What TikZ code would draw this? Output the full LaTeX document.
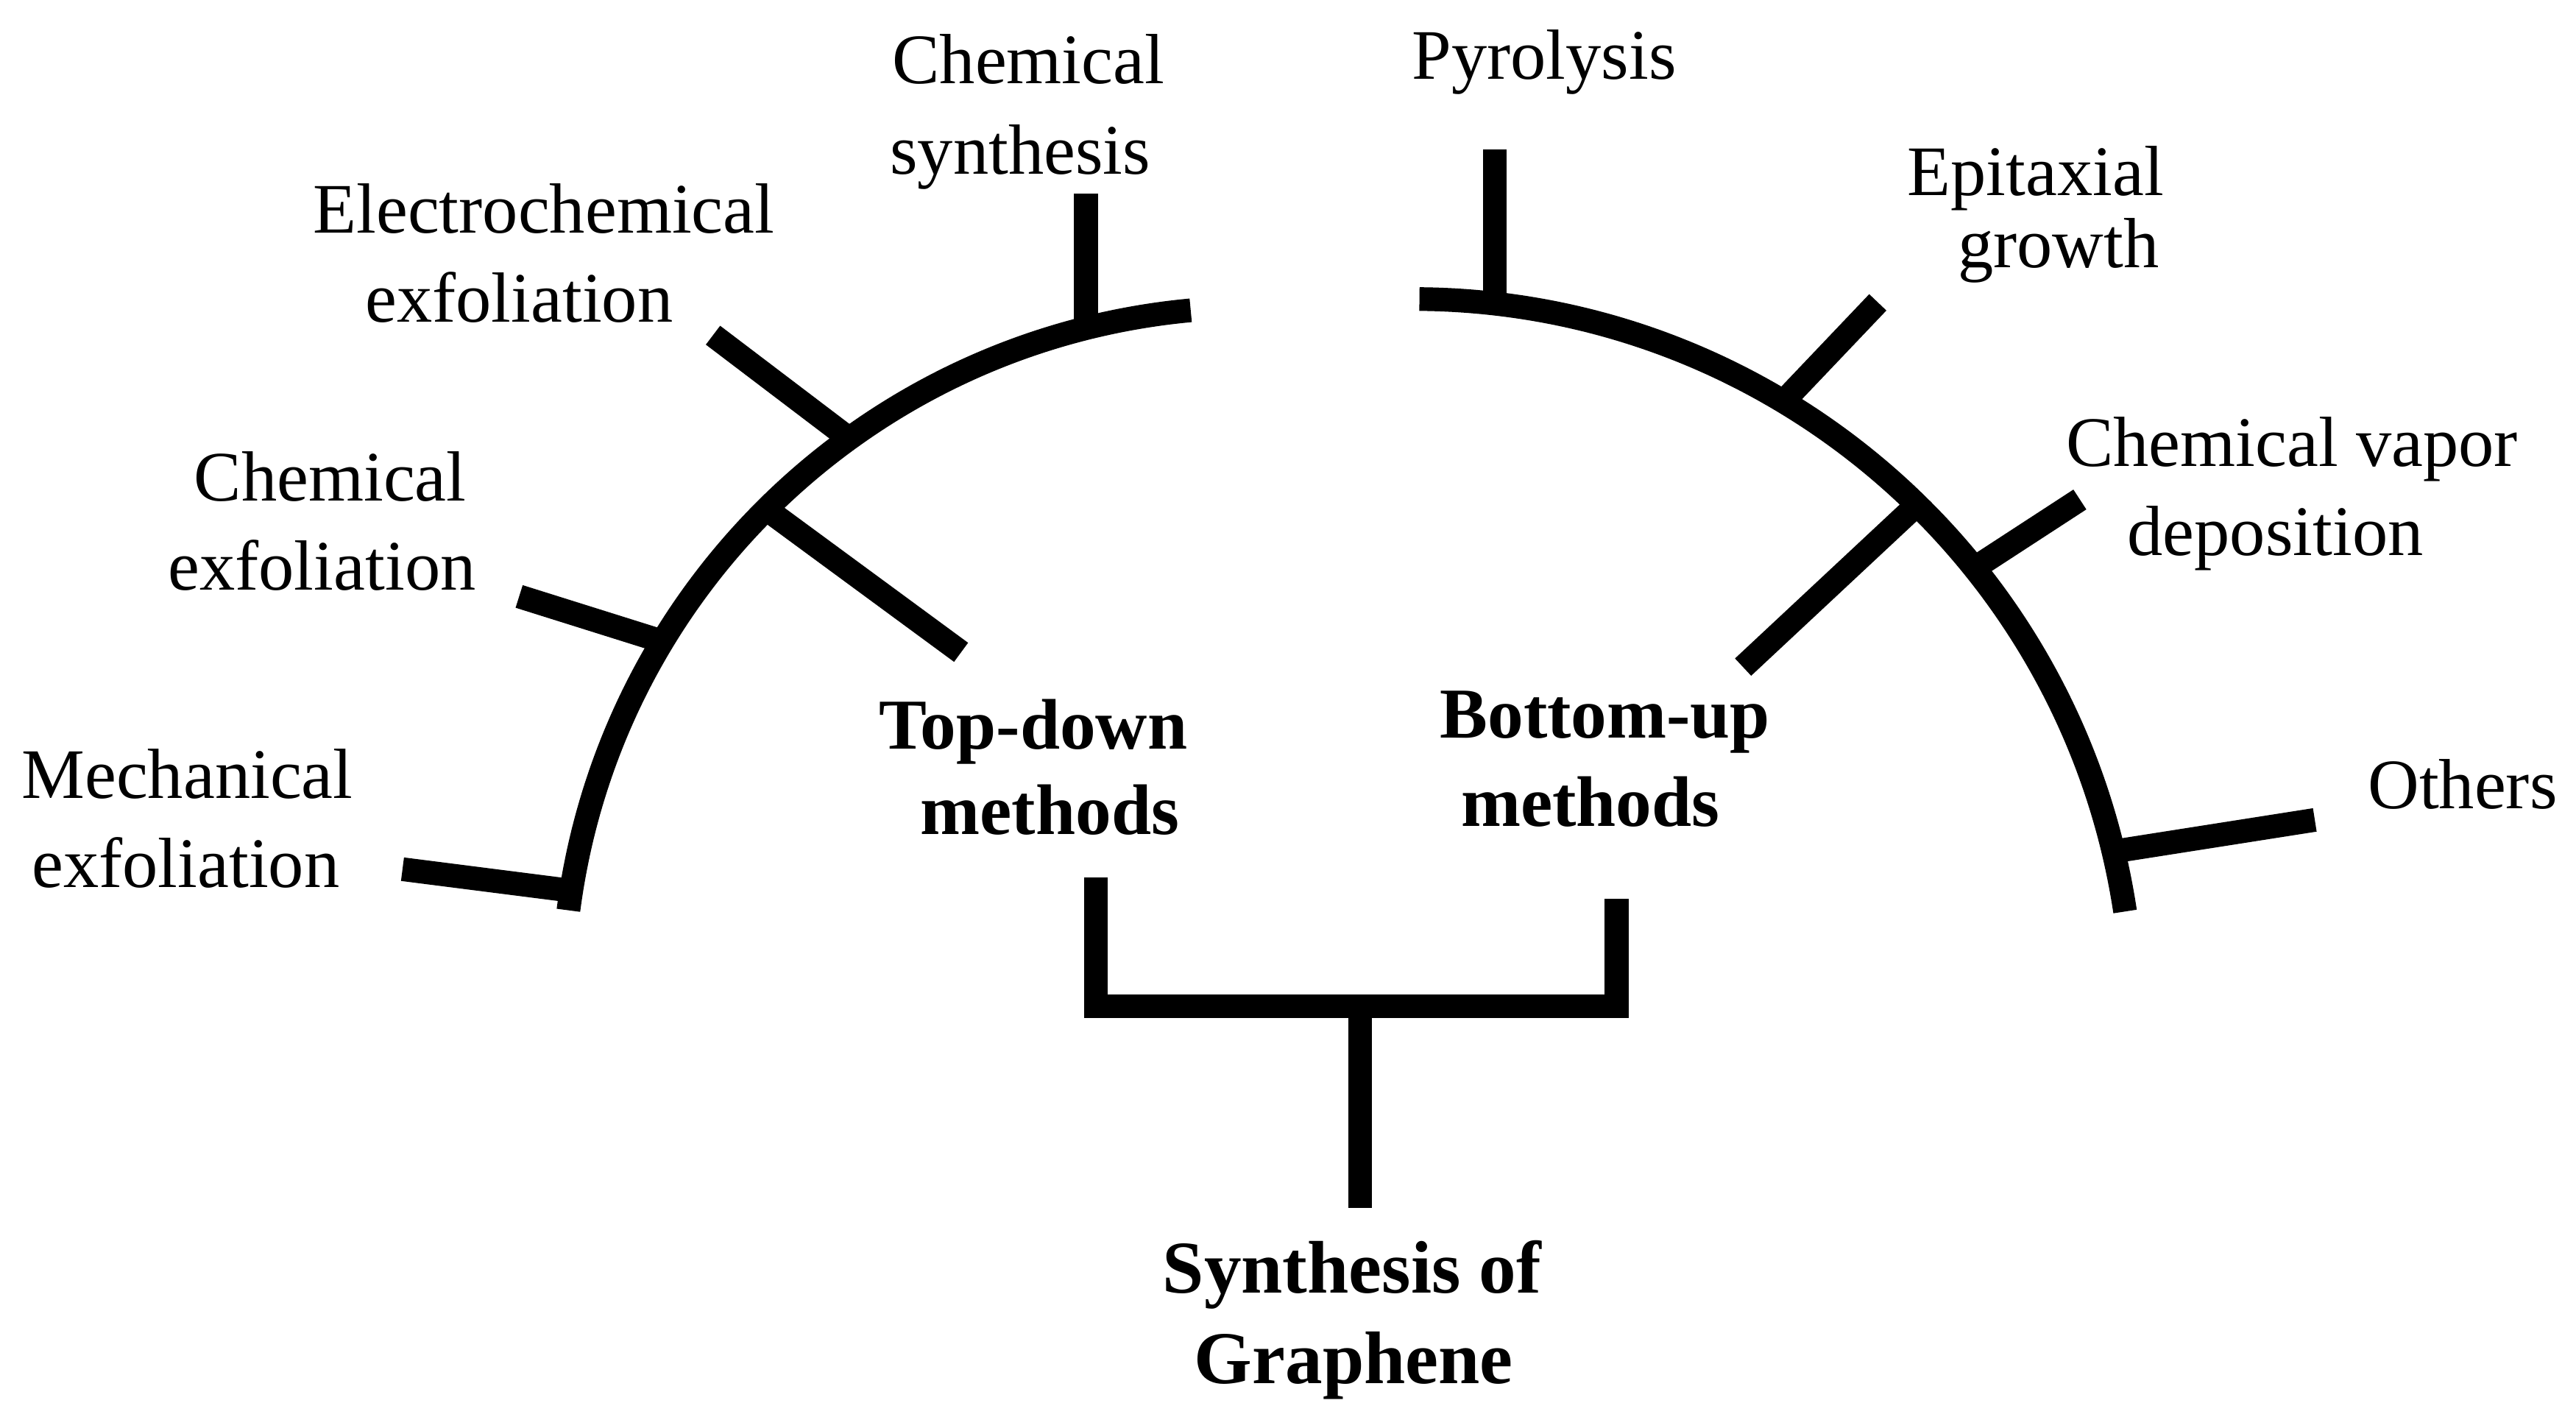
\documentclass[tikz,border=0pt]{standalone}
\usepackage{fontspec}
\setmainfont{Liberation Serif}
\begin{document}
\begin{tikzpicture}[x=0.1mm,y=-0.1mm,
  branch/.style={line width=4.1pt, line cap=butt, line join=miter},
  lbl/.style={font=\fontsize{12.3}{15}\selectfont, anchor=base, inner sep=0pt, outer sep=0pt},
  blbl/.style={font=\fontsize{12.4}{15}\selectfont\bfseries, anchor=base, inner sep=0pt, outer sep=0pt},
  rootlbl/.style={font=\fontsize{12.9}{15}\selectfont\bfseries, anchor=base, inner sep=0pt, outer sep=0pt}]
\path[use as bounding box] (0,0) rectangle (1568,862);

% ---------- labels ----------
\node[lbl] (cs1) at (626,51) {Chemical};
\node[lbl] (cs2) at (621,106) {synthesis};
\node[lbl] (py1) at (940,48) {Pyrolysis};
\node[lbl] (ec1) at (331,142) {Electrochemical};
\node[lbl] (ec2) at (316,196) {exfoliation};
\node[lbl] (ep1) at (1239,119) {Epitaxial};
\node[lbl] (ep2) at (1253,163) {growth};
\node[lbl] (ce1) at (201,305) {Chemical};
\node[lbl] (ce2) at (196,359) {exfoliation};
\node[lbl] (cv1) at (1395,284) {Chemical vapor};
\node[lbl] (cv2) at (1385,338) {deposition};
\node[lbl] (me1) at (114,486) {Mechanical};
\node[lbl] (me2) at (113,540) {exfoliation};
\node[lbl] (ot1) at (1499,492) {Others};
\node[blbl] (td1) at (629,456) {Top-down};
\node[blbl] (td2) at (639,508) {methods};
\node[blbl] (bu1) at (977,449) {Bottom-up};
\node[blbl] (bu2) at (968,503) {methods};
\node[rootlbl] (sg1) at (823,787) {Synthesis of};
\node[rootlbl] (sg2) at (824,842) {Graphene};

% ---------- arcs ----------
\coordinate (Lstart) at (346,554);
\coordinate (Rstart) at (864,182);
\draw[branch] (Lstart) arc[start angle=187.4, end angle=264.7, radius=421.2];
\draw[branch] (Rstart) arc[start angle=270.5, end angle=351.4, radius=438.3];

% ---------- ticks on the left arc ----------
\coordinate (csO) at (661,118);  \coordinate (csA) at (661,200);
\coordinate (ecO) at (434,204);  \coordinate (ecA) at (517,267);
\coordinate (ceO) at (316,363);  \coordinate (ceA) at (402,390);
\coordinate (meO) at (245,529);  \coordinate (meA) at (347,542);
\coordinate (tdA) at (468,311);  \coordinate (tdI) at (585,397);
\draw[branch] (csO) -- (csA);
\draw[branch] (ecO) -- (ecA);
\draw[branch] (ceO) -- (ceA);
\draw[branch] (meO) -- (meA);
\draw[branch] (tdA) -- (tdI);

% ---------- ticks on the right arc ----------
\coordinate (pyO) at (910,91);    \coordinate (pyA) at (910,185);
\coordinate (epO) at (1143,184);  \coordinate (epA) at (1084,246);
\coordinate (cvO) at (1266,304);  \coordinate (cvA) at (1203,345);
\coordinate (otO) at (1409,499);  \coordinate (otA) at (1288,518);
\coordinate (buA) at (1167,307);  \coordinate (buI) at (1061,406);
\draw[branch] (pyO) -- (pyA);
\draw[branch] (epO) -- (epA);
\draw[branch] (cvO) -- (cvA);
\draw[branch] (otO) -- (otA);
\draw[branch] (buA) -- (buI);

% ---------- bracket and stem ----------
\coordinate (brL) at (667,534);
\coordinate (brLb) at (667,612.5);
\coordinate (brRb) at (984,612.5);
\coordinate (brR) at (984,547);
\coordinate (stT) at (828,612.5);
\coordinate (stB) at (828,735);
\draw[branch] (brL) -- (brLb) -- (brRb) -- (brR);
\draw[branch] (stT) -- (stB);
\end{tikzpicture}
\end{document}
